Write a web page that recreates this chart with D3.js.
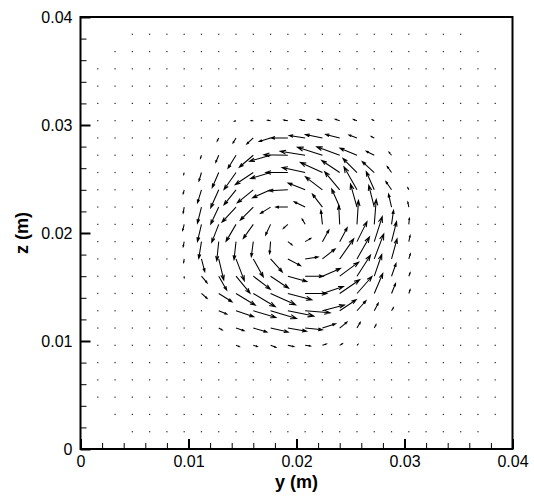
<!DOCTYPE html>
<html><head><meta charset="utf-8">
<script src="https://cdn.jsdelivr.net/npm/d3@7"></script>
<style>body{margin:0;background:#fff}svg{display:block}</style>
</head><body>
<script>
// Measurement grid: points every 1.6 mm across the section
const gridStep = 0.0016;
// Sampled rows (j index) and the first/last column (i index) present in each row
const maskRows = [1,2,3,4,5,6,7,8,9,10,11,12,13,14,15,16,17,18,19,20,21,22,23,24];
const maskFrom = [3,2,1,1,1,1,1,1,1,1,1,1,1,1,1,1,1,1,1,1,1,1,2,3];
const maskTo   = [23,24,24,24,24,24,24,24,24,24,24,24,24,24,24,24,24,24,24,24,24,24,23,22];

// Velocity components (cm/s) in the vortex core block; other points are at rest
const vecCols = [6,7,8,9,10,11,12,13,14,15,16,17,18,19];
const vecRows = [19,18,17,16,15,14,13,12,11,10,9,8,7,6];
const uRows = [
  [0,-0.5,-1,-1.5,-2,-3,-4,-5,-5,-4.5,-3.5,-2,-1,0],
  [0,-0.5,-1.5,-3,-6.5,-11.5,-17,-16,-17,-14,-8,-3,-1,0],
  [0,-1,-3,-8,-14,-21,-24,-25,-25,-23,-17,-8,-2.5,0],
  [-0.5,-2.5,-6.5,-12,-18,-20,-22,-23,-22,-18,-14,-12,-4.3,-0.5],
  [-1,-4,-8,-12,-16,-18,-19,-17,-17,-15,-13,-8,-5.7,-1],
  [-1,-4,-8,-14,-13,-10,-12,-11,-10,-8,-6.5,-5.5,-3,-1],
  [-1.5,-4,-7,-10,-10,-5,-4.5,-3,-1.5,-1,1.5,2,2,0.5],
  [-1,-2.7,-2,-2,-2,-1,4.3,5.7,6.5,7.5,10,8,5,1.3],
  [-0.5,3.3,5,8.3,10,11.7,12.7,13,12.7,14,12.5,9.5,5.5,1.5],
  [0,5.7,8,14,17,18,19,18,18,19,13.5,7.5,4.5,1.3],
  [0,5.7,13.3,19.3,22,25,24,21.7,21,20,15,8.5,4,1.3],
  [0,1,8,17.7,22.7,26,26,25,22,16.5,9,4,1.8,0],
  [0,0,3.5,8,13.7,17.7,18.7,17.3,13.3,7.3,3.3,1.7,0,0],
  [0,0,0.5,3.3,4,5.3,6,5.3,4,2.7,1,0,0,0]
];
const wRows = [
  [0,-0.3,-0.5,-0.5,0,0.5,0.7,1,1.3,1.5,1.3,1,0.5,0],
  [0,-1,-3,-5,-6,-3.5,0,2.5,3.5,3.5,3,1.5,0.5,0],
  [-0.5,-3,-7,-13,-12,-6,0.5,4,8,8.5,7,4,3,0.5],
  [-2,-8.5,-15,-17,-12,-6,0,5,10,12,14,11,6,1],
  [-4,-13,-18,-15,-13,-8,-1,6.7,13,18,23,18,8.3,2],
  [-6,-16,-17,-15,-13,-6.3,0,5.3,13,18,23,21.7,13,5],
  [-6,-17,-18,-17,-14,-10.7,-4,5.3,14,19,24,25,14,6],
  [-5,-16.7,-19,-18,-15,-12,-3.3,3.3,11.7,14,20,25,20,6],
  [-3.5,-12.7,-21,-21.7,-18,-13,-6.7,2,10,20,22,25,20,5],
  [-1.5,-6.7,-14,-17,-13,-12,-5.3,0,7.7,14,21,21.7,12.7,3.5],
  [-0.5,-5,-8.3,-11.7,-13.3,-11.3,-6.3,0,7,13.7,17,20,10,3.7],
  [0,-0.5,-3.3,-6,-6.7,-7.7,-5.3,-2,5.7,11,10,7.5,3,0],
  [0,0,-2,-2.7,-4,-4,-3.3,-1.7,4.3,6,5.7,3.3,0,0],
  [0,0,0,-1.3,-1.3,-2,-1.3,-0.7,1.3,1.7,1,0,0,0]
];

// Axis ticks
const majorTicks = [0,0.01,0.02,0.03,0.04];
const minorTicks = [0.002,0.004,0.006,0.008,0.012,0.014,0.016,0.018,0.022,0.024,0.026,0.028,0.032,0.034,0.036,0.038];
const tickLabels = ["0","0.01","0.02","0.03","0.04"];

const vectorScale = 0.0000926; // metres of arrow per cm/s

const W = 534, H = 500;
const svg = d3.select("body").append("svg").attr("width", W).attr("height", H)
  .style("font-family", "'Liberation Sans', Arial, Helvetica, sans-serif");

const x = d3.scaleLinear().domain([0, 0.04]).range([80.5, 512.5]);
const y = d3.scaleLinear().domain([0, 0.04]).range([449, 17]);

// build vector field
const vel = new Map();
vecRows.forEach((j, r) => vecCols.forEach((i, c) => vel.set(i + "," + j, [uRows[r][c], wRows[r][c]])));
const points = [];
maskRows.forEach((j, r) => {
  for (let i = maskFrom[r]; i <= maskTo[r]; i++) {
    const v = vel.get(i + "," + j) || [0, 0];
    points.push({yp: i * gridStep, zp: j * gridStep, u: v[0], w: v[1]});
  }
});

const gVec = svg.append("g");
points.forEach(p => {
  const x0 = x(p.yp), y0 = y(p.zp);
  const x1 = x(p.yp + p.u * vectorScale), y1 = y(p.zp + p.w * vectorScale);
  const L = Math.hypot(x1 - x0, y1 - y0);
  if (L < 1.2) {
    gVec.append("rect").attr("x", x0 - 0.6).attr("y", y0 - 0.6).attr("width", 1.2).attr("height", 1.2)
      .attr("fill", "#222");
    return;
  }
  const a = Math.atan2(y1 - y0, x1 - x0);
  const h = 0.22 * L + 0.6, da = 0.33;
  const hx1 = x1 - h * Math.cos(a - da), hy1 = y1 - h * Math.sin(a - da);
  const hx2 = x1 - h * Math.cos(a + da), hy2 = y1 - h * Math.sin(a + da);
  gVec.append("path")
    .attr("d", `M${x0},${y0}L${x1},${y1}M${hx1},${hy1}L${x1},${y1}L${hx2},${hy2}`)
    .attr("fill", "none").attr("stroke", "#000").attr("stroke-width", 1.05);
});

// axes
const fmt = d => tickLabels[majorTicks.indexOf(d)];
const bottom = svg.append("g").attr("transform", `translate(0,${y(0)})`)
  .call(d3.axisBottom(x).tickValues(majorTicks).tickFormat(fmt).tickSizeInner(-10).tickSizeOuter(0).tickPadding(7));
const bottomMinor = svg.append("g").attr("transform", `translate(0,${y(0)})`)
  .call(d3.axisBottom(x).tickValues(minorTicks).tickFormat("").tickSizeInner(-6).tickSizeOuter(0));
const left = svg.append("g").attr("transform", `translate(${x(0)},0)`)
  .call(d3.axisLeft(y).tickValues(majorTicks).tickFormat(fmt).tickSizeInner(-10).tickSizeOuter(0).tickPadding(8));
const leftMinor = svg.append("g").attr("transform", `translate(${x(0)},0)`)
  .call(d3.axisLeft(y).tickValues(minorTicks).tickFormat("").tickSizeInner(-6).tickSizeOuter(0));
[bottom, bottomMinor, left, leftMinor].forEach(g => {
  g.select(".domain").remove();
  g.selectAll("line").attr("stroke", "#000");
  g.selectAll("text").attr("font-size", 16).attr("fill", "#000").attr("font-family", null);
});
bottom.selectAll("line").attr("stroke-width", 2);
left.selectAll("line").attr("stroke-width", 2);

svg.append("rect").attr("x", x(0)).attr("y", y(0.04)).attr("width", x(0.04) - x(0)).attr("height", y(0) - y(0.04))
  .attr("fill", "none").attr("stroke", "#000").attr("stroke-width", 2);

svg.append("text").attr("x", (x(0) + x(0.04)) / 2).attr("y", 488).attr("text-anchor", "middle")
  .attr("font-size", 18).attr("font-weight", "bold").text("y (m)");
svg.append("text").attr("transform", `translate(28,${(y(0) + y(0.04)) / 2}) rotate(-90)`).attr("text-anchor", "middle")
  .attr("font-size", 18).attr("font-weight", "bold").text("z (m)");
</script>
</body></html>
